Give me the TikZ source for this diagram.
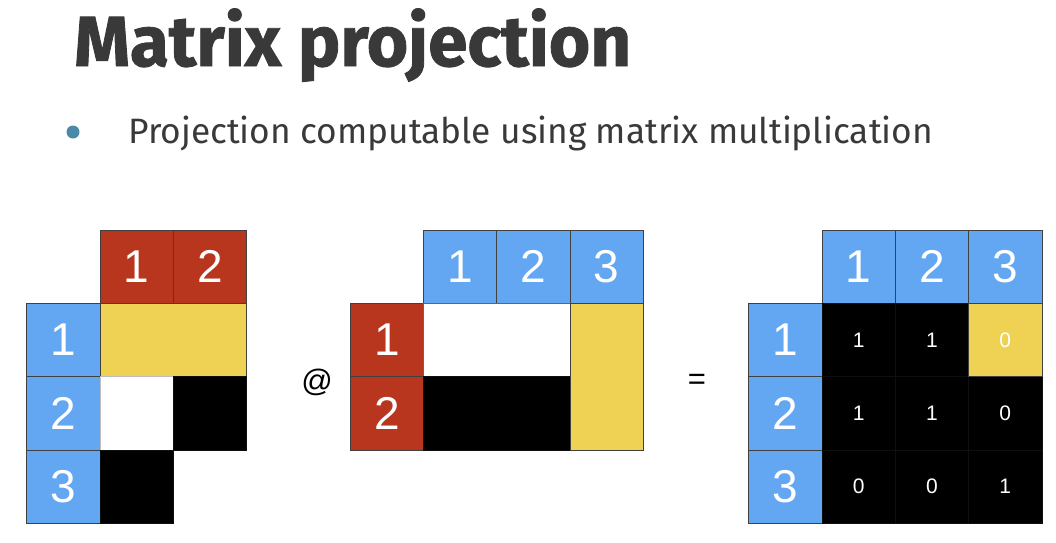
\documentclass[tikz,border=0pt]{standalone}
\usepackage{fontspec}
\setmainfont{Fira Sans}
\newfontfamily\titlefont{Fira Sans}[BoldFeatures={FakeBold=1.2}]
\newfontfamily\numfont{Liberation Sans}
\definecolor{cblue}{RGB}{99,166,242}
\definecolor{cred}{RGB}{185,54,30}
\definecolor{cyel}{RGB}{239,210,83}
\definecolor{ctitle}{RGB}{57,57,57}
\definecolor{cbullet}{RGB}{74,138,168}
\tikzset{
  cell/.style={draw=black!75, line width=0.7pt, minimum width=73.3pt, minimum height=73.3pt, inner sep=0pt, outer sep=0pt, text=white, font=\numfont\fontsize{46}{46}\selectfont},
  bluecell/.style={cell, fill=cblue},
  redcell/.style={cell, fill=cred},
  yelcell/.style={cell, fill=cyel},
  blkcell/.style={cell, fill=black, draw=black!94},
  whtcell/.style={cell, fill=white, draw=black!25},
  val/.style={text=white, font=\numfont\fontsize{21}{21}\selectfont, inner sep=0pt},
  op/.style={font=\numfont\fontsize{31}{31}\selectfont, inner sep=0pt}
}
\begin{document}
\begin{tikzpicture}[x=1pt,y=-1pt]
\useasboundingbox (0,0) rectangle (1056,542);
% title
\node[anchor=base west, inner sep=0pt, text=ctitle, font=\titlefont\fontsize{71}{71}\selectfont\bfseries] (title) at (74,66) {Matrix projection};
\fill[cbullet] (73,132) circle (6.5pt);
\node[anchor=base west, inner sep=0pt, text=ctitle, font=\fontsize{35.3}{35.3}\selectfont] (bullet) at (128,143) {Projection computable using matrix multiplication};
% matrix 1
\node[redcell] (a-c1) at (136.65,266.65) {1};
\node[redcell] (a-c2) at (209.95,266.65) {2};
\node[bluecell] (a-r1) at (63.35,339.95) {1};
\node[bluecell] (a-r2) at (63.35,413.25) {2};
\node[bluecell] (a-r3) at (63.35,486.55) {3};
\node[yelcell, minimum width=146.6pt] (a-y) at (173.3,339.95) {};
\node[whtcell] (a-w) at (136.65,413.25) {};
\node[blkcell] (a-b1) at (209.95,413.25) {};
\node[blkcell] (a-b2) at (136.65,486.55) {};
% operator
\node[op] (at) at (317,382) {@};
% matrix 2
\node[bluecell] (b-c1) at (460.15,266.65) {1};
\node[bluecell] (b-c2) at (533.45,266.65) {2};
\node[bluecell] (b-c3) at (606.75,266.65) {3};
\node[redcell] (b-r1) at (386.85,339.95) {1};
\node[redcell] (b-r2) at (386.85,413.25) {2};
\node[whtcell, minimum width=146.6pt, draw=black!60] (b-w) at (496.8,339.95) {};
\node[blkcell, minimum width=146.6pt] (b-b) at (496.8,413.25) {};
\node[yelcell, minimum height=146.6pt] (b-y) at (606.75,376.6) {};
% equals
\node[op] (eq) at (697,382) {=};
% matrix 3
\node[bluecell] (c-c1) at (858.65,266.65) {1};
\node[bluecell] (c-c2) at (931.95,266.65) {2};
\node[bluecell] (c-c3) at (1005.25,266.65) {3};
\node[bluecell] (c-r1) at (785.35,339.95) {1};
\node[bluecell] (c-r2) at (785.35,413.25) {2};
\node[bluecell] (c-r3) at (785.35,486.55) {3};
\foreach \i/\y in {1/339.95,2/413.25,3/486.55}{
  \foreach \j/\x in {1/858.65,2/931.95,3/1005.25}{
    \node[blkcell] (c-\i\j) at (\x,\y) {};
  }
}
\node[yelcell] (c-13y) at (1005.25,339.95) {};
\node[val] at (c-11) {1};
\node[val] at (c-12) {1};
\node[val] at (c-13y) {0};
\node[val] at (c-21) {1};
\node[val] at (c-22) {1};
\node[val] at (c-23) {0};
\node[val] at (c-31) {0};
\node[val] at (c-32) {0};
\node[val] at (c-33) {1};
\end{tikzpicture}
\end{document}
